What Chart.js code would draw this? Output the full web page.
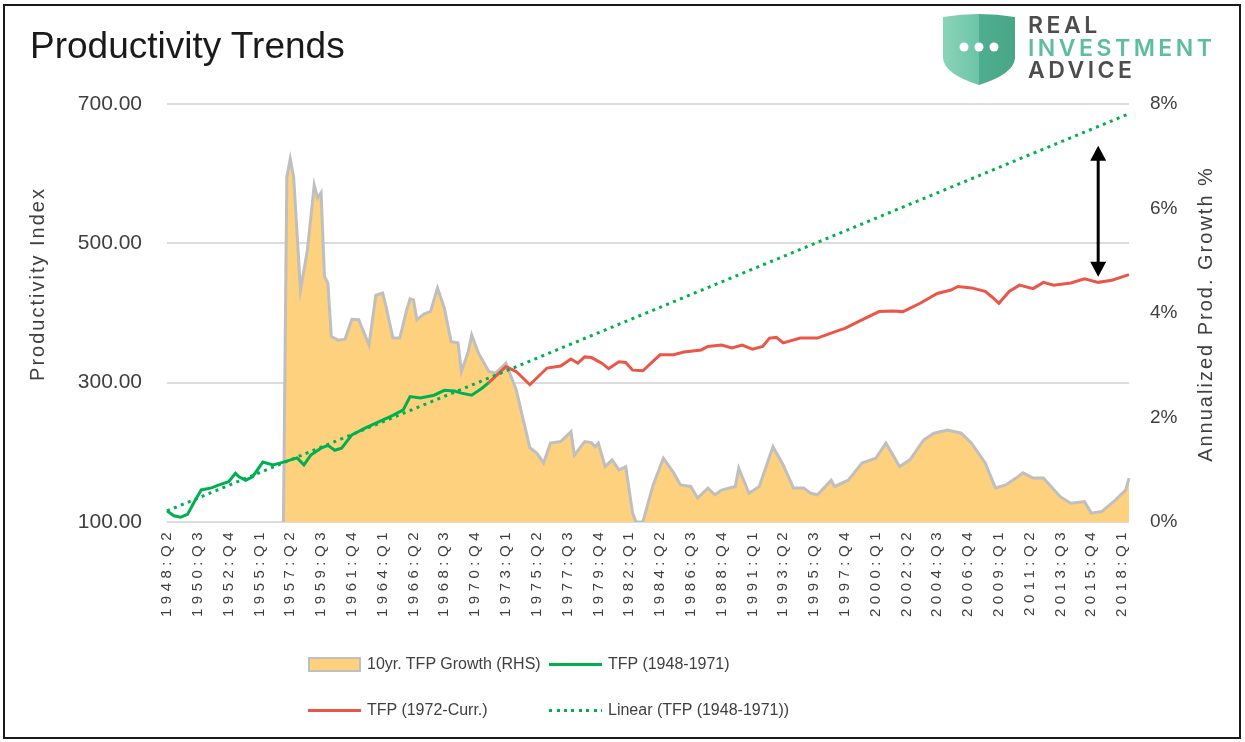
<!DOCTYPE html>
<html>
<head>
<meta charset="utf-8">
<title>Productivity Trends</title>
<script src="https://cdn.jsdelivr.net/npm/chart.js@4.4.1/dist/chart.umd.min.js"></script>
<style>
  body { margin: 0; background: #fff; font-family: "Liberation Sans", Arial, sans-serif; }
  #wrap { position: relative; width: 1245px; height: 742px; overflow: hidden; }
  #frame { position: absolute; left: 3px; top: 4px; width: 1238px; height: 735px; border: 2px solid #1a1a1a; box-sizing: border-box; pointer-events: none; }
  #title { position: absolute; left: 30px; top: 27px; font-size: 37px; line-height: 37px; color: #1a1a1a; }
  canvas { position: absolute; left: 0; top: 0; }
  #shield { position: absolute; left: 943px; top: 12px; }
  #brand { position: absolute; left: 1028px; top: 14px; font-family: Inter, sans-serif; font-weight: 600; font-size: 23px; line-height: 22.5px; letter-spacing: 3.5px; color: #4d4d4d; }
  #brand .mid { color: #5dbe9e; }
  .item { position: absolute; display: flex; align-items: center; height: 20px; font-size: 16px; color: #404040; white-space: nowrap; }
  .sym { width: 53px; margin-right: 6px; box-sizing: border-box; }
</style>
</head>
<body>
<div id="wrap">
  <canvas id="chart" width="1245" height="742"></canvas>
  <div id="title">Productivity Trends</div>
  <svg id="shield" width="72" height="74" viewBox="0 0 72 74">
    <defs>
      <linearGradient id="sg" x1="0" x2="1" y1="0" y2="0">
        <stop offset="0" stop-color="#8ad4ba"/>
        <stop offset="0.5" stop-color="#6cc4a6"/>
        <stop offset="0.5" stop-color="#4fae8f"/>
        <stop offset="1" stop-color="#48a687"/>
      </linearGradient>
    </defs>
    <path d="M0,5 Q36,-1 72,5 L72,46 Q71,62 36,73 Q1,62 0,46 Z" fill="url(#sg)"/>
    <circle cx="21" cy="35" r="4.5" fill="#fff"/>
    <circle cx="36" cy="35" r="4.5" fill="#fff"/>
    <circle cx="51" cy="35" r="4.5" fill="#fff"/>
  </svg>
  <div id="brand">REAL<br><span class="mid">INVESTMENT</span><br>ADVICE</div>
  <div id="legend"></div>
  <div id="frame"></div>
</div>
<script>
// quarterly category axis, 1948:Q2 .. 2018:Q3
const firstYear = 1948, firstQ = 2, lastYear = 2018, lastQ = 3;
const quarters = [];
for (let y = firstYear; y <= lastYear; y++) {
  for (let q = 1; q <= 4; q++) {
    if (y === firstYear && q < firstQ) continue;
    if (y === lastYear && q > lastQ) break;
    quarters.push(y + ':Q' + q);
  }
}
const labelEvery = 9;

// TFP index 1948-1971 (left axis)
const tfpEarlyQ = ['1948:Q2','1948:Q4','1949:Q2','1949:Q4','1950:Q2','1950:Q4','1951:Q3','1952:Q1','1952:Q4','1953:Q2',
  '1953:Q3','1954:Q1','1954:Q3','1955:Q2','1956:Q1','1956:Q4','1957:Q4','1958:Q2','1958:Q4','1959:Q3',
  '1960:Q1','1960:Q3','1961:Q1','1961:Q4','1962:Q4','1963:Q4','1964:Q4','1965:Q3','1966:Q1','1966:Q4',
  '1967:Q4','1968:Q3','1969:Q2','1969:Q4','1970:Q3','1971:Q2','1971:Q4'];
const tfpEarly = [116,109,107,111,129,146,149,153,158,170,
  165,160,165,186,182,186,192,182,196,206,
  210,203,206,225,235,244,253,261,280,278,
  282,289,288,285,282,292,300];

// TFP index 1972-current (left axis)
const tfpLateQ = ['1971:Q4','1973:Q1','1973:Q4','1974:Q4','1976:Q1','1977:Q1','1977:Q4','1978:Q2','1978:Q4','1979:Q2',
  '1980:Q1','1980:Q3','1981:Q2','1981:Q4','1982:Q2','1983:Q1','1984:Q2','1985:Q2','1986:Q1','1987:Q2',
  '1987:Q4','1988:Q4','1989:Q3','1990:Q2','1991:Q1','1991:Q4','1992:Q2','1992:Q4','1993:Q2','1994:Q3',
  '1995:Q4','1997:Q1','1997:Q4','1999:Q1','2000:Q2','2001:Q2','2002:Q1','2003:Q2','2004:Q3','2005:Q3',
  '2006:Q1','2007:Q1','2008:Q1','2008:Q3','2009:Q1','2009:Q4','2010:Q3','2011:Q3','2012:Q2','2013:Q1',
  '2014:Q2','2015:Q2','2016:Q2','2017:Q2','2018:Q3'];
const tfpLate = [300,323,316,297,321,324,334,328,337,336,
  328,320,330,329,318,317,340,340,344,347,
  352,354,350,354,348,352,364,365,357,364,
  364,373,378,390,402,403,402,414,428,433,
  438,436,431,423,414,431,440,435,444,440,
  443,449,444,447,455];

// linear trend of the 1948-1971 series, read at both ends
const trendQ = ['1948:Q2', '2018:Q3'];
const trend = [116, 686];

// 10yr TFP growth, % (right axis)
const growthQ = ['1956:Q4','1957:Q1','1957:Q2','1957:Q3','1958:Q1','1958:Q3','1959:Q1','1959:Q2','1959:Q3','1959:Q4',
  '1960:Q1','1960:Q2','1960:Q4','1961:Q2','1961:Q4','1962:Q2','1963:Q1','1963:Q3','1964:Q1','1964:Q2',
  '1964:Q4','1965:Q2','1965:Q4','1966:Q1','1966:Q2','1966:Q3','1967:Q1','1967:Q3','1968:Q1','1968:Q3',
  '1969:Q1','1969:Q3','1969:Q4','1970:Q2','1970:Q3','1971:Q1','1971:Q4','1972:Q2','1973:Q1','1973:Q4',
  '1974:Q4','1975:Q2','1975:Q4','1976:Q2','1977:Q1','1977:Q4','1978:Q1','1978:Q4','1979:Q2','1979:Q3',
  '1979:Q4','1980:Q2','1980:Q4','1981:Q2','1981:Q4','1982:Q2','1982:Q3','1983:Q1','1983:Q4','1984:Q3',
  '1985:Q2','1985:Q4','1986:Q3','1987:Q1','1987:Q4','1988:Q2','1988:Q4','1989:Q4','1990:Q1','1990:Q4',
  '1991:Q3','1992:Q3','1993:Q2','1994:Q1','1994:Q4','1995:Q2','1995:Q4','1996:Q4','1997:Q1','1998:Q1',
  '1999:Q1','2000:Q1','2000:Q4','2001:Q4','2002:Q3','2003:Q3','2004:Q2','2005:Q2','2006:Q2','2007:Q1',
  '2008:Q1','2008:Q4','2009:Q3','2010:Q2','2010:Q4','2011:Q3','2012:Q2','2013:Q3','2014:Q2','2015:Q2',
  '2015:Q4','2016:Q3','2017:Q3','2018:Q2','2018:Q3'];
const growth = [0,6.6,6.95,6.6,4.44,5.2,6.45,6.2,6.3,4.7,
  4.57,3.55,3.48,3.5,3.88,3.87,3.39,4.34,4.38,4.12,
  3.52,3.52,4.06,4.27,4.25,3.87,3.98,4.03,4.48,4.1,
  3.45,3.43,2.88,3.26,3.58,3.23,2.88,2.85,3.04,2.53,
  1.42,1.32,1.13,1.51,1.54,1.73,1.28,1.54,1.52,1.44,
  1.51,1.06,1.19,1.0,1.06,0.17,0,0,0.71,1.22,
  0.94,0.71,0.68,0.46,0.65,0.52,0.61,0.68,1.03,0.55,
  0.68,1.44,1.09,0.65,0.65,0.55,0.52,0.8,0.68,0.8,
  1.13,1.22,1.51,1.06,1.19,1.57,1.7,1.76,1.7,1.51,
  1.13,0.65,0.71,0.84,0.94,0.84,0.84,0.48,0.36,0.39,
  0.17,0.2,0.42,0.61,0.84];

// gap arrow between trend and actual
const arrowAt = '2016:Q2';
const arrowTop = 640, arrowBottom = 452;

const leftTicks = { min: 100, max: 700, step: 200 };
const rightTicks = { min: 0, max: 8, step: 2 };

// axis titles, both read bottom-to-top
const axisTitles = [
  { text: 'Productivity Index', x: 38, y: 284 },
  { text: 'Annualized Prod. Growth %', x: 1206, y: 314 }
];

const pts = (qs, vs) => qs.map((q, i) => ({ x: q, y: vs[i] }));

Chart.defaults.font.family = '"Liberation Sans", Arial, sans-serif';
Chart.defaults.color = '#404040';

// extra letter spacing for the quarter labels
const spacing = { x: { drawLabels: '4.5px' } };
const letterSpacingPlugin = {
  id: 'letterSpacing',
  beforeDraw(chart) {
    for (const id in spacing) {
      const s = chart.scales[id];
      if (!s || s._spaced) continue;
      s._spaced = true;
      for (const name in spacing[id]) {
        const orig = s[name];
        const sp = spacing[id][name];
        s[name] = function (...args) {
          this.ctx.save();
          this.ctx.letterSpacing = sp;
          orig.apply(this, args);
          this.ctx.restore();
        };
      }
    }
  }
};

const axisTitlePlugin = {
  id: 'axisTitles',
  afterDraw(chart) {
    const ctx = chart.ctx;
    ctx.save();
    ctx.fillStyle = '#404040';
    ctx.font = '20px "Liberation Sans", Arial, sans-serif';
    ctx.letterSpacing = '2px';
    ctx.textAlign = 'center';
    ctx.textBaseline = 'middle';
    axisTitles.forEach((t) => {
      ctx.save();
      ctx.translate(t.x, t.y);
      ctx.rotate(-Math.PI / 2);
      ctx.fillText(t.text, 0, 0);
      ctx.restore();
    });
    ctx.restore();
  }
};

const arrowPlugin = {
  id: 'gapArrow',
  afterDatasetsDraw(chart) {
    const { ctx, scales: { x, y } } = chart;
    const px = x.getPixelForValue(quarters.indexOf(arrowAt));
    const top = y.getPixelForValue(arrowTop);
    const bot = y.getPixelForValue(arrowBottom);
    const hw = 8, hl = 15;
    ctx.save();
    ctx.strokeStyle = '#000';
    ctx.fillStyle = '#000';
    ctx.lineWidth = 3;
    ctx.beginPath();
    ctx.moveTo(px, top + hl - 2);
    ctx.lineTo(px, bot - hl + 2);
    ctx.stroke();
    ctx.beginPath();
    ctx.moveTo(px, top); ctx.lineTo(px - hw, top + hl); ctx.lineTo(px + hw, top + hl); ctx.closePath();
    ctx.moveTo(px, bot); ctx.lineTo(px - hw, bot - hl); ctx.lineTo(px + hw, bot - hl); ctx.closePath();
    ctx.fill();
    ctx.restore();
  }
};

const chart = new Chart(document.getElementById('chart'), {
  type: 'line',
  data: {
    labels: quarters,
    datasets: [
      {
        label: '10yr. TFP Growth (RHS)',
        data: pts(growthQ, growth),
        yAxisID: 'y1',
        fill: 'origin',
        backgroundColor: '#fdd17e',
        borderColor: '#bfbfbf',
        borderWidth: 3,
        pointRadius: 0,
        order: 4
      },
      {
        label: 'TFP (1948-1971)',
        data: pts(tfpEarlyQ, tfpEarly),
        yAxisID: 'y',
        borderColor: '#00b050',
        borderWidth: 3,
        pointRadius: 0,
        fill: false,
        order: 2
      },
      {
        label: 'TFP (1972-Curr.)',
        data: pts(tfpLateQ, tfpLate),
        yAxisID: 'y',
        borderColor: '#ea5748',
        borderWidth: 3,
        pointRadius: 0,
        fill: false,
        order: 3
      },
      {
        label: 'Linear (TFP (1948-1971))',
        data: pts(trendQ, trend),
        yAxisID: 'y',
        borderColor: '#00b050',
        borderWidth: 3,
        borderDash: [3, 4.5],
        pointRadius: 0,
        fill: false,
        order: 1
      }
    ]
  },
  options: {
    responsive: false,
    animation: false,
    events: [],
    layout: { padding: { top: 104, left: 0, right: 0, bottom: 0 } },
    plugins: {
      legend: { display: false },
      tooltip: { enabled: false }
    },
    scales: {
      x: {
        offset: false,
        grid: { display: false },
        border: { display: false },
        ticks: {
          autoSkip: false,
          minRotation: 90,
          maxRotation: 90,
          padding: -2,
          font: { size: 15 },
          callback: (v, i) => (i % labelEvery === 0 ? quarters[i] : '')
        },
        afterFit: (s) => { s.height = 220; }
      },
      y: {
        position: 'left',
        min: leftTicks.min,
        max: leftTicks.max,
        grid: { color: '#dcdcdc', lineWidth: 2, drawTicks: false },
        border: { display: false },
        ticks: { stepSize: leftTicks.step, padding: 25, font: { size: 21 }, callback: (v) => v.toFixed(2) },
        afterFit: (s) => { s.width = 167; }
      },
      y1: {
        position: 'right',
        min: rightTicks.min,
        max: rightTicks.max,
        grid: { display: false, drawTicks: false },
        border: { display: false },
        ticks: { stepSize: rightTicks.step, padding: 21, font: { size: 19 }, callback: (v) => v + '%' },
        afterFit: (s) => { s.width = 116; }
      }
    }
  },
  plugins: [letterSpacingPlugin, arrowPlugin, axisTitlePlugin]
});
chart.draw();

// html legend, 2 x 2 grid, built from the datasets
const legendSpots = [[308, 654], [549, 654], [308, 700], [549, 700]];
const legendEl = document.getElementById('legend');
chart.data.datasets.forEach((ds, i) => {
  const item = document.createElement('div');
  item.className = 'item';
  item.style.left = legendSpots[i][0] + 'px';
  item.style.top = legendSpots[i][1] + 'px';
  const sym = document.createElement('span');
  sym.className = 'sym';
  if (ds.fill) {
    sym.style.height = '15px';
    sym.style.background = ds.backgroundColor;
    sym.style.border = '2px solid ' + ds.borderColor;
  } else if (ds.borderDash) {
    sym.style.height = '3px';
    sym.style.background = `repeating-linear-gradient(90deg, ${ds.borderColor} 0 3px, transparent 3px 7.5px)`;
  } else {
    sym.style.height = '3px';
    sym.style.background = ds.borderColor;
  }
  item.appendChild(sym);
  item.appendChild(document.createTextNode(ds.label));
  legendEl.appendChild(item);
});
</script>
</body>
</html>
